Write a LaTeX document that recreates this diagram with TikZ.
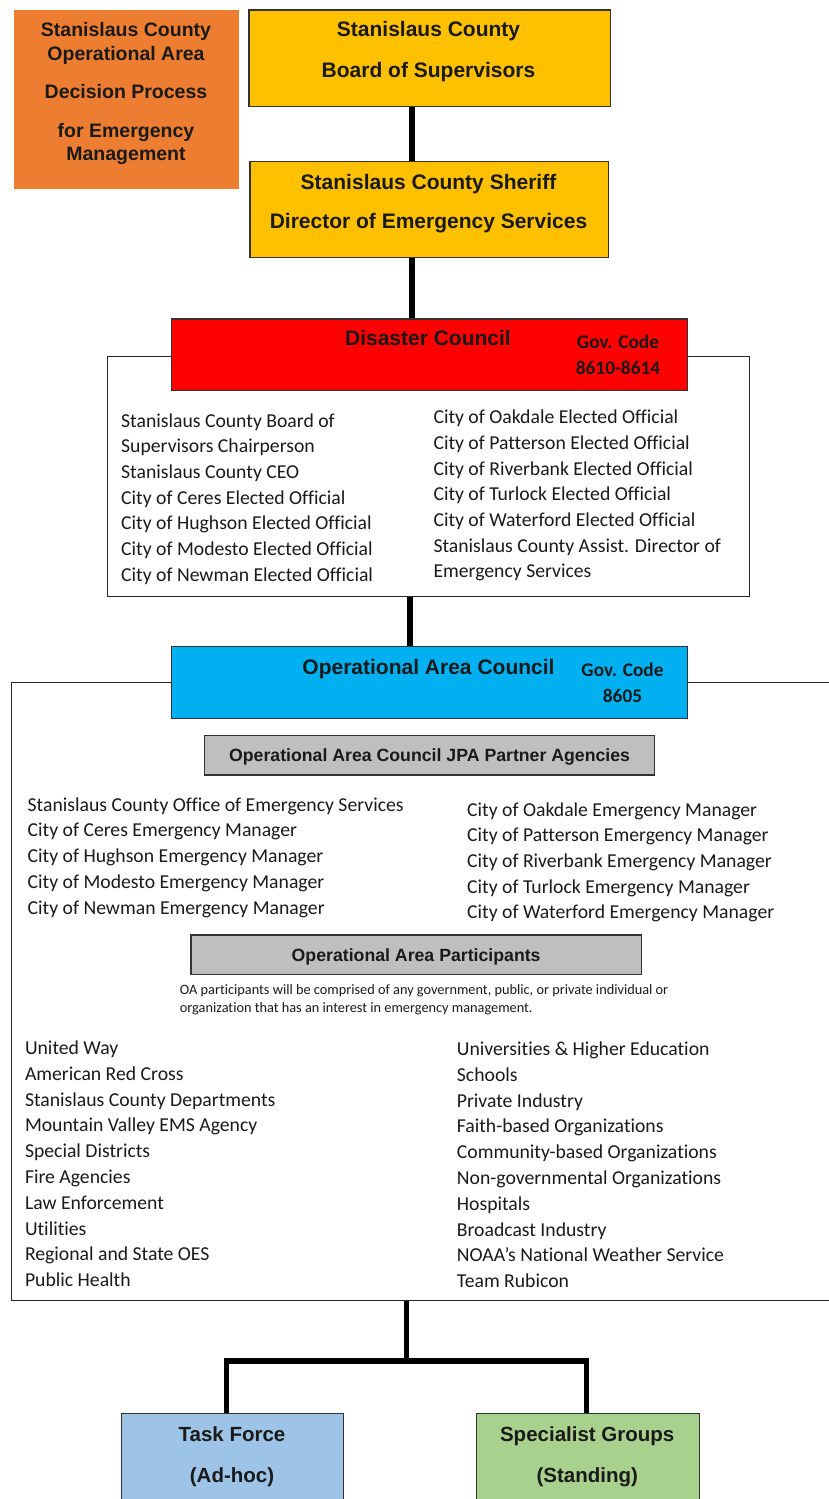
\documentclass[tikz,border=0pt]{standalone}
\usepackage{fontspec}
\setmainfont{Carlito}[Ligatures=NoCommon]
\newfontfamily\headfont{Liberation Sans}
\definecolor{orgC}{HTML}{ED7D31}
\definecolor{ylwC}{HTML}{FFC000}
\definecolor{redC}{HTML}{FF0000}
\definecolor{cyanC}{HTML}{00B0F0}
\definecolor{grayC}{HTML}{BFBFBF}
\definecolor{taskC}{HTML}{9DC3E6}
\definecolor{specC}{HTML}{A9D18E}
\definecolor{inkC}{HTML}{1A1A1A}
\tikzset{
  panel/.style={inner sep=0pt, anchor=north west},
  boxed/.style={panel, draw=black!80, line width=1.4pt},
  frame/.style={panel, draw=black!85, line width=1.2pt, fill=white},
  conn/.style={draw=black, line width=5.3pt},
  hd/.style={font=\headfont\bfseries\fontsize{#1}{#1}\selectfont, text=inkC,
             inner sep=0pt, anchor=base, yshift=-0.35*#1pt},
  gov/.style={font=\bfseries\fontsize{19.3}{19.3}\selectfont, text=inkC,
              inner sep=0pt, anchor=base, yshift=-6pt},
  item/.style={font=\fontsize{19.7}{19.7}\selectfont, text=inkC,
               inner sep=0pt, anchor=base west, yshift=-5.5pt},
  note/.style={font=\fontsize{14.3}{14.3}\selectfont, text=inkC,
               inner sep=0pt, anchor=base west, yshift=-3.8pt},
}
\begin{document}
\begin{tikzpicture}[x=1pt,y=-1pt]
\useasboundingbox (0,0) rectangle (829,1499);
\clip (0,0) rectangle (829,1499);

% title panel
\node[panel, fill=orgC, minimum width=225.4pt, minimum height=178.3pt] (title) at (13.3,10) {};
\node[hd=19.5] (title1) at (126,29.3) {Stanislaus County};
\node[hd=19.5] (title2) at (126,53.3) {Operational Area};
\node[hd=19.5] (title3) at (126,91.7) {Decision Process};
\node[hd=19.5] (title4) at (126,130.7) {for Emergency};
\node[hd=19.5] (title5) at (126,154) {Management};

% chain of command
\coordinate (spineA) at (412,0);
\coordinate (spineB) at (410,0);
\node[boxed, fill=ylwC, minimum width=361.2pt, minimum height=96.7pt] (board) at (248.3,9.3) {};
\node[hd=21] (board1) at (428.5,29.5) {Stanislaus County};
\node[hd=21] (board2) at (428.5,70.5) {Board of Supervisors};

\node[boxed, fill=ylwC, minimum width=358.4pt, minimum height=95.7pt] (sheriff) at (249.3,161) {};
\node[hd=21] (sheriff1) at (428.5,181.7) {Stanislaus County Sheriff};
\node[hd=21] (sheriff2) at (428.5,221) {Director of Emergency Services};

% disaster council
\node[frame, minimum width=642pt, minimum height=240.3pt] (dcframe) at (107,355.7) {};
\node[boxed, fill=redC, minimum width=516.3pt, minimum height=71.7pt] (dc) at (170.7,318.3) {};
\node[hd=21] (dctitle) at (428,338.3) {Disaster Council};
\node[gov] (dcgov1) at (618,342.7) {Gov. Code};
\node[gov] (dcgov2) at (618,368.3) {8610-8614};

\draw[conn] (board.south -| spineA) -- (sheriff.north -| spineA);
\draw[conn] (sheriff.south -| spineA) -- (dc.north -| spineA);

\foreach \t [count=\i from 0] in {Stanislaus County Board of, Supervisors Chairperson,
  Stanislaus County CEO, City of Ceres Elected Official, City of Hughson Elected Official,
  City of Modesto Elected Official, City of Newman Elected Official}
  \node[item] (dcl\i) at (121,421.7+25.67*\i) {\t};
\foreach \t [count=\i from 0] in {City of Oakdale Elected Official, City of Patterson Elected Official,
  City of Riverbank Elected Official, City of Turlock Elected Official,
  City of Waterford Elected Official, Stanislaus County Assist. Director of, Emergency Services}
  \node[item] (dcr\i) at (433.3,418.3+25.67*\i) {\t};

% operational area council
\node[frame, minimum width=840pt, minimum height=618.3pt] (oaframe) at (10.6,681.7) {};
\node[boxed, fill=cyanC, minimum width=516.3pt, minimum height=72pt] (oa) at (170.7,645.7) {};
\node[hd=21] (oatitle) at (428.5,666.7) {Operational Area Council};
\node[gov] (oagov1) at (622.5,670.7) {Gov. Code};
\node[gov] (oagov2) at (622.5,696.7) {8605};

\draw[conn] (dcframe.south -| spineB) -- (oa.north -| spineB);

\node[boxed, fill=grayC, minimum width=449.8pt, minimum height=39.3pt] (jpa) at (204,735) {};
\node[hd=17.7] (jpatitle) at (jpa.center) {Operational Area Council JPA Partner Agencies};

\foreach \t [count=\i from 0] in {Stanislaus County Office of Emergency Services,
  City of Ceres Emergency Manager, City of Hughson Emergency Manager,
  City of Modesto Emergency Manager, City of Newman Emergency Manager}
  \node[item] (jpal\i) at (27.5,805.7+25.75*\i) {\t};
\foreach \t [count=\i from 0] in {City of Oakdale Emergency Manager,
  City of Patterson Emergency Manager, City of Riverbank Emergency Manager,
  City of Turlock Emergency Manager, City of Waterford Emergency Manager}
  \node[item] (jpar\i) at (467,810.7+25.65*\i) {\t};

\node[boxed, fill=grayC, minimum width=450.3pt, minimum height=39.7pt] (part) at (190.3,934.3) {};
\node[hd=17.7] (parttitle) at (part.center) {Operational Area Participants};
\node[note] (note1) at (179.7,990.3) {OA participants will be comprised of any government, public, or private individual or};
\node[note] (note2) at (179.7,1009) {organization that has an interest in emergency management.};

\foreach \t [count=\i from 0] in {United Way, American Red Cross, Stanislaus County Departments,
  Mountain Valley EMS Agency, Special Districts, Fire Agencies, Law Enforcement, Utilities,
  Regional and State OES, Public Health}
  \node[item] (pl\i) at (24.8,1049+25.8*\i) {\t};
\foreach \t [count=\i from 0] in {Universities \& Higher Education, Schools, Private Industry,
  Faith-based Organizations, Community-based Organizations, Non-governmental Organizations,
  Hospitals, Broadcast Industry, NOAA’s National Weather Service, Team Rubicon}
  \node[item] (pr\i) at (456.7,1050+25.8*\i) {\t};

% working groups
\node[boxed, fill=taskC, minimum width=222pt, minimum height=100pt] (tf) at (121,1413) {};
\node[hd=20.5] (tf1) at (232,1434.3) {Task Force};
\node[hd=20.5] (tf2) at (232,1475) {(Ad-hoc)};
\node[boxed, fill=specC, minimum width=223.2pt, minimum height=100pt] (sg) at (475.6,1413) {};
\node[hd=20.5] (sg1) at (587.2,1434.3) {Specialist Groups};
\node[hd=20.5] (sg2) at (587.2,1475) {(Standing)};

\coordinate (split) at (406.8,1361);
\draw[conn] (oaframe.south -| split) -- (split);
\draw[conn, line join=miter] ([xshift=-6.5pt]tf.north) |- (split) -| ([xshift=-1.4pt]sg.north);
\end{tikzpicture}
\end{document}
